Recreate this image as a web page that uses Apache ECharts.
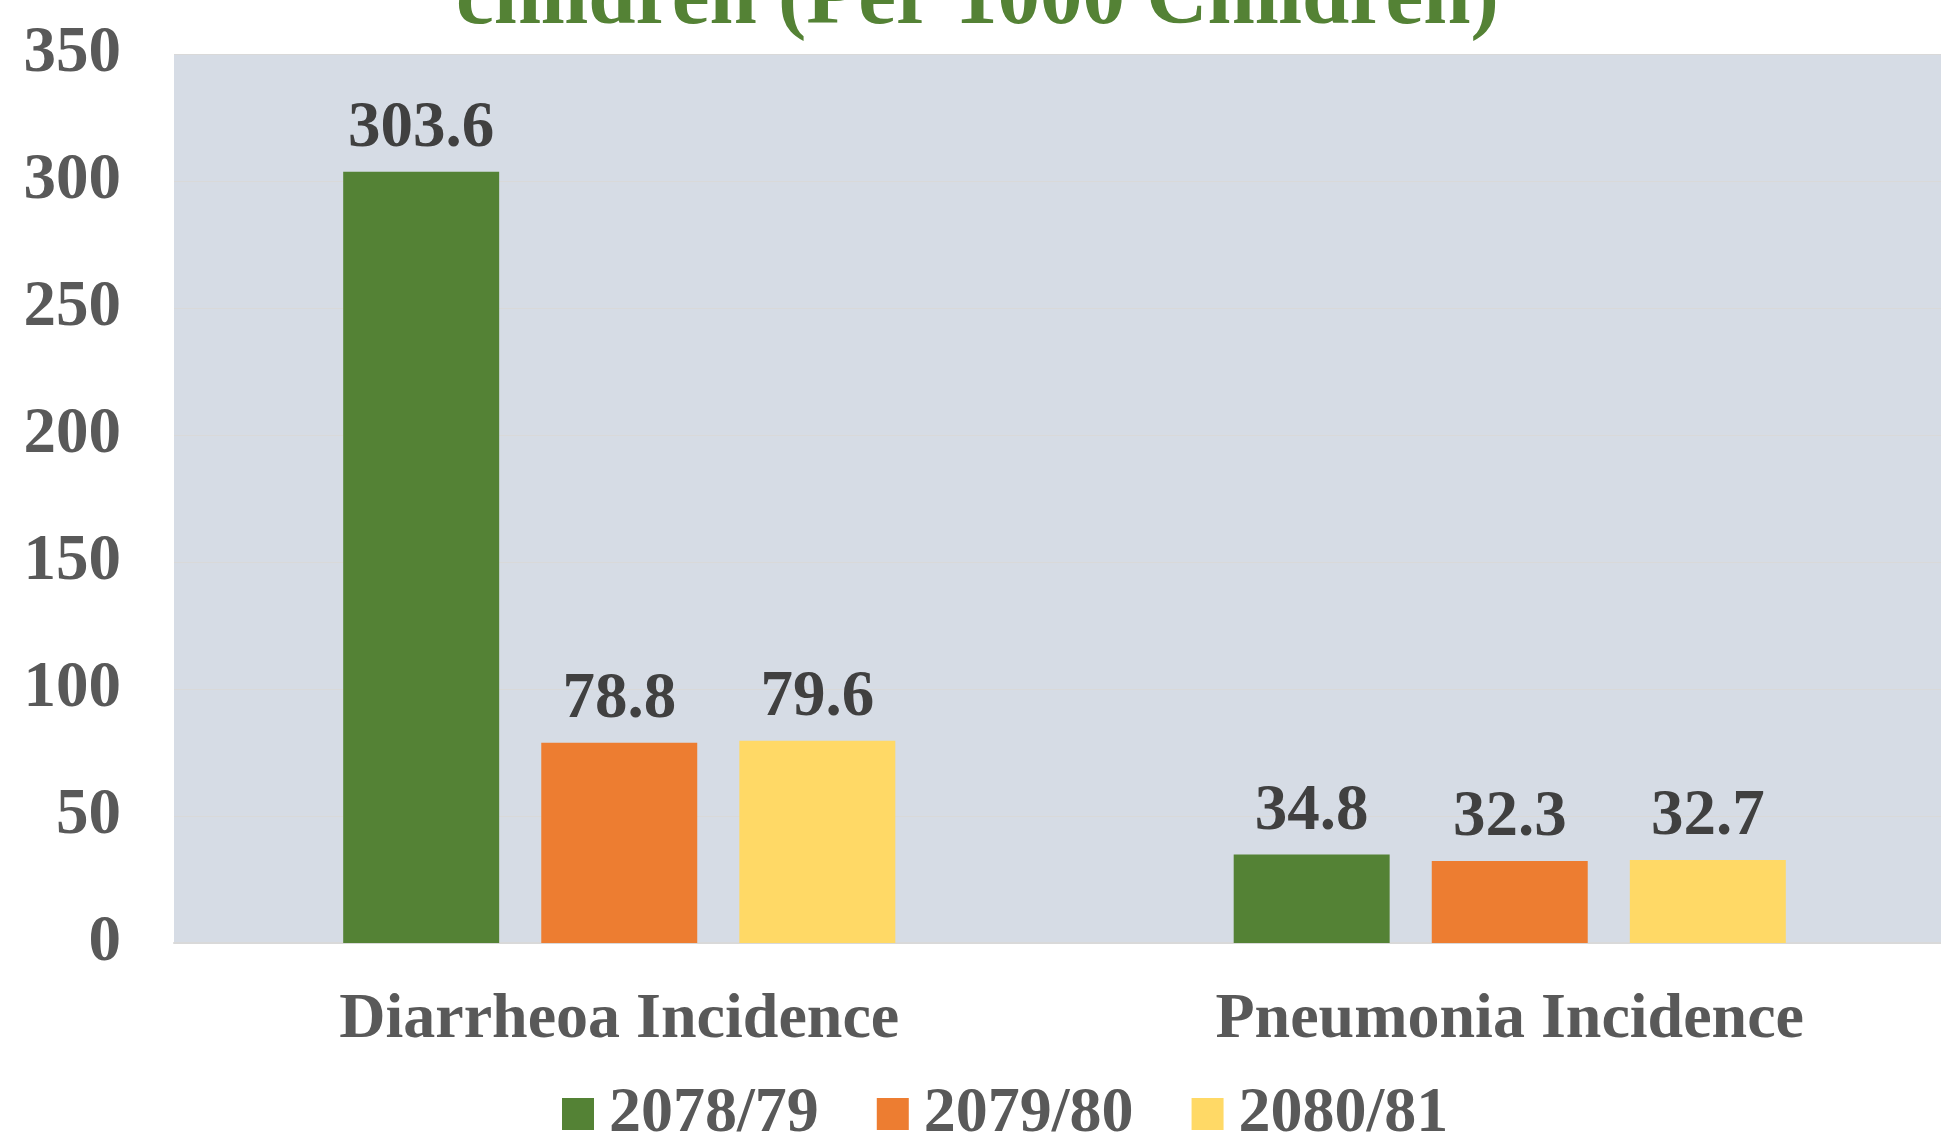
<!DOCTYPE html>
<html><head><meta charset="utf-8">
<script src="https://cdn.jsdelivr.net/npm/echarts@6/dist/echarts.min.js"></script>
<style>html,body{margin:0;padding:0;background:#fff;overflow:hidden;width:1941px;height:1139px}#c{width:1955px;height:1139px}</style>
</head><body><div id="c"></div>
<script>
const titleText = 'children (Per 1000 Children)';
const categories = ['Diarrheoa Incidence', 'Pneumonia Incidence'];
const seriesNames = ['2078/79', '2079/80', '2080/81'];
const values2078 = [303.6, 34.8];
const values2079 = [78.8, 32.3];
const values2080 = [79.6, 32.7];
const colors = ['#548235', '#ED7D31', '#FFD966'];
const font = '"Liberation Serif", "Times New Roman", serif';

const chart = echarts.init(document.getElementById('c'), null, {renderer: 'canvas'});
const dataSets = [values2078, values2079, values2080];
chart.setOption({
  animation: false,
  title: {
    text: titleText, left: 'center', top: -46,
    textStyle: {fontFamily: font, fontWeight: 'bold', fontSize: 85, color: '#548235'}
  },
  legend: {
    left: 557, top: 1077, itemWidth: 32, itemHeight: 32, itemGap: 58,
    icon: 'rect',
    textStyle: {fontFamily: font, fontWeight: 'bold', fontSize: 64, color: '#595959', padding: [0,0,0,10]},
    data: seriesNames
  },
  grid: {left: 174, top: 54, bottom: 196, right: 0, show: true, backgroundColor: '#D6DCE5', borderWidth: 0},
  xAxis: {
    type: 'category', data: categories,
    axisLine: {lineStyle: {color: '#D9D9D9', width: 2}},
    axisTick: {show: false},
    axisLabel: {fontFamily: font, fontWeight: 'bold', fontSize: 64, color: '#595959', margin: 45}
  },
  yAxis: {
    type: 'value', min: 0, max: 350, interval: 50,
    axisLine: {show: false}, axisTick: {show: false},
    splitLine: {lineStyle: {color: '#D9D9D9', width: 1}},
    axisLabel: {fontFamily: font, fontWeight: 'bold', fontSize: 65, color: '#595959', margin: 53, padding: [6, 0, 0, 0]}
  },
  series: seriesNames.map((n, i) => ({
    name: n, type: 'bar', data: dataSets[i],
    barGap: '27%', barCategoryGap: '38%',
    itemStyle: {color: colors[i]},
    label: {show: true, position: 'top', distance: 10, fontFamily: font, fontWeight: 'bold', fontSize: 65, color: '#404040'}
  }))
});
</script></body></html>
